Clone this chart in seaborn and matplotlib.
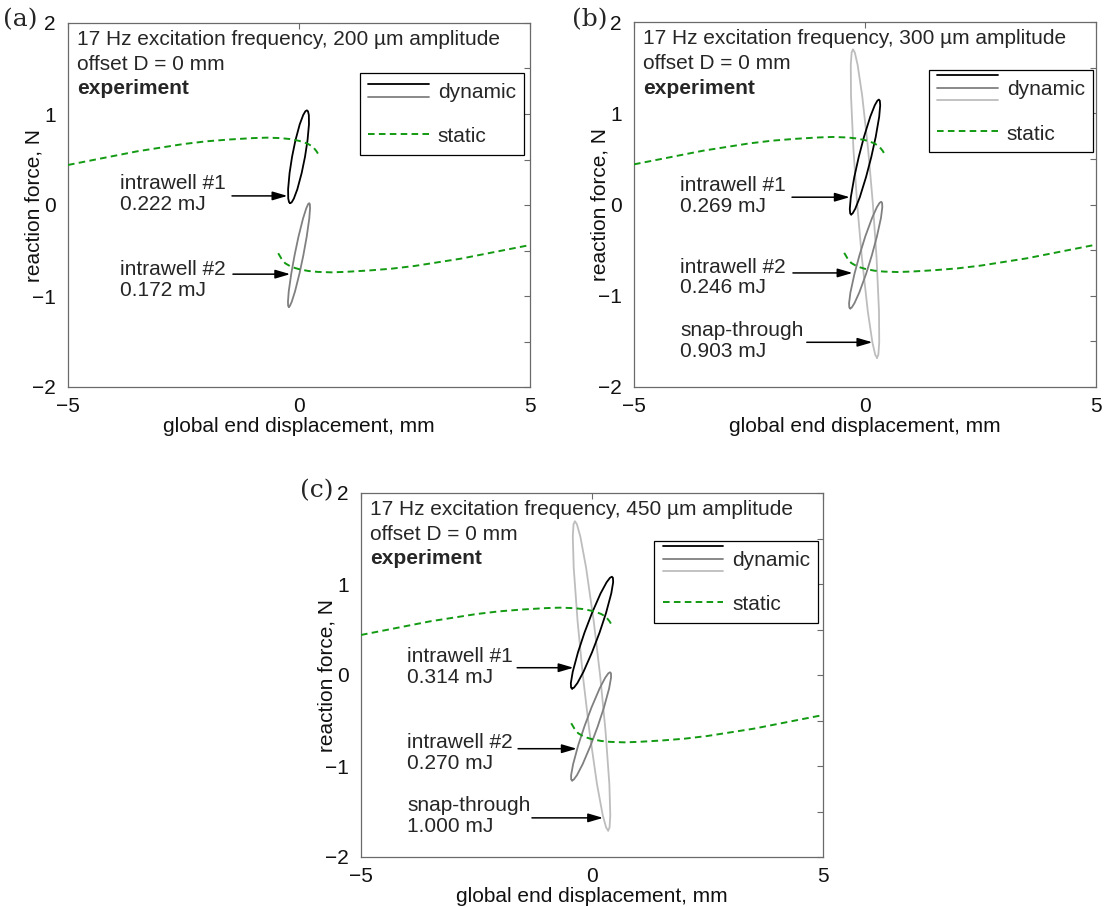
import matplotlib
matplotlib.use("Agg")
import matplotlib.pyplot as plt
from matplotlib.lines import Line2D
from matplotlib.legend_handler import HandlerBase
import seaborn as sns

sns.set_theme(style="white")
plt.rcParams["font.family"] = ["Liberation Sans", "DejaVu Sans"]

# ---------------------------------------------------------------- data
# quasi-static reaction force, both equilibrium branches (mm, N)
static_upper_x = [-5, -4.5, -4, -3.5, -3, -2.5, -2, -1.5, -1, -0.7, -0.4, -0.2, 0, 0.1, 0.2, 0.3, 0.38, 0.45]
static_upper_y = [0.44, 0.49, 0.54, 0.59, 0.63, 0.67, 0.70, 0.72, 0.735, 0.74, 0.735, 0.725, 0.705, 0.69, 0.67, 0.64, 0.59, 0.53]
static_lower_x = [-0.45, -0.38, -0.3, -0.2, -0.1, 0, 0.2, 0.4, 0.7, 1, 1.5, 2, 2.5, 3, 3.5, 4, 4.5, 5]
static_lower_y = [-0.53, -0.59, -0.64, -0.67, -0.69, -0.705, -0.725, -0.735, -0.74, -0.735, -0.72, -0.70, -0.67, -0.63, -0.59, -0.54, -0.49, -0.44]

# dynamic hysteresis loops: force levels, left and right branch displacement
a_well1_f = [0.02, 0.030, 0.071, 0.173, 0.352, 0.53, 0.709, 0.887, 0.989, 1.030, 1.04]
a_well1_l = [-0.19, -0.214, -0.233, -0.236, -0.204, -0.15, -0.078, 0.016, 0.091, 0.138, 0.17]
a_well1_r = [-0.19, -0.158, -0.111, -0.036, 0.058, 0.13, 0.184, 0.216, 0.213, 0.194, 0.17]

a_well2_f = [-1.12, -1.109, -1.063, -0.949, -0.750, -0.55, -0.350, -0.151, -0.037, 0.009, 0.02]
a_well2_l = [-0.22, -0.235, -0.239, -0.222, -0.166, -0.095, -0.012, 0.086, 0.157, 0.197, 0.22]
a_well2_r = [-0.22, -0.197, -0.157, -0.086, 0.012, 0.095, 0.166, 0.222, 0.239, 0.235, 0.22]

b_well1_f = [-0.11, -0.097, -0.047, 0.079, 0.300, 0.52, 0.741, 0.961, 1.087, 1.137, 1.15]
b_well1_l = [-0.30, -0.321, -0.329, -0.307, -0.232, -0.136, -0.022, 0.113, 0.211, 0.267, 0.30]
b_well1_r = [-0.30, -0.267, -0.211, -0.113, 0.022, 0.136, 0.232, 0.307, 0.329, 0.321, 0.30]

b_well2_f = [-1.14, -1.128, -1.082, -0.965, -0.760, -0.555, -0.350, -0.146, -0.028, 0.018, 0.03]
b_well2_l = [-0.32, -0.340, -0.345, -0.316, -0.228, -0.119, 0.006, 0.154, 0.259, 0.316, 0.35]
b_well2_r = [-0.32, -0.286, -0.229, -0.124, 0.024, 0.149, 0.258, 0.346, 0.375, 0.370, 0.35]

b_snap_f = [-1.68, -1.646, -1.511, -1.173, -0.582, 0.01, 0.602, 1.193, 1.531, 1.666, 1.70]
b_snap_l = [0.26, 0.221, 0.160, 0.061, -0.068, -0.170, -0.250, -0.303, -0.308, -0.289, -0.26]
b_snap_r = [0.26, 0.289, 0.308, 0.303, 0.250, 0.170, 0.068, -0.061, -0.160, -0.221, -0.26]

c_well1_f = [-0.15, -0.138, -0.089, 0.035, 0.250, 0.465, 0.680, 0.896, 1.019, 1.068, 1.08]
c_well1_l = [-0.43, -0.453, -0.458, -0.417, -0.303, -0.163, -0.001, 0.185, 0.316, 0.389, 0.43]
c_well1_r = [-0.43, -0.389, -0.316, -0.185, 0.001, 0.163, 0.303, 0.417, 0.458, 0.453, 0.43]

c_well2_f = [-1.16, -1.148, -1.101, -0.982, -0.773, -0.565, -0.357, -0.149, -0.030, 0.018, 0.03]
c_well2_l = [-0.43, -0.451, -0.452, -0.410, -0.299, -0.164, -0.011, 0.164, 0.286, 0.353, 0.39]
c_well2_r = [-0.43, -0.393, -0.326, -0.204, -0.029, 0.124, 0.259, 0.370, 0.412, 0.411, 0.39]

c_snap_f = [-1.71, -1.676, -1.540, -1.200, -0.605, -0.01, 0.585, 1.180, 1.520, 1.656, 1.69]
c_snap_l = [0.35, 0.306, 0.232, 0.108, -0.059, -0.197, -0.311, -0.396, -0.416, -0.400, -0.37]
c_snap_r = [0.35, 0.380, 0.396, 0.376, 0.291, 0.177, 0.039, -0.128, -0.252, -0.326, -0.37]

# dissipated energy per cycle (mJ) and excitation amplitudes (um)
energy_a = [0.222, 0.172]
energy_b = [0.269, 0.246, 0.903]
energy_c = [0.314, 0.270, 1.000]
amplitudes = [200, 300, 450]
loop_names = ["intrawell #1", "intrawell #2", "snap-through"]

x_ticks = [-5, 0, 5]
x_tick_labels = ["\u22125", "0", "5"]
y_ticks = [-2, -1.5, -1, -0.5, 0, 0.5, 1, 1.5, 2]
y_tick_labels = ["\u22122", "", "\u22121", "", "0", "", "1", "", "2"]

# ---------------------------------------------------------------- styling
BLACK, GRAY, LIGHT = "#000000", "#808080", "#bdbdbd"
GREEN = "#129a12"
FRAME = "#6a6a6a"
DASH = (0, (3.4, 2.2))
FS = 15
W, H = 1106, 907


def closed_loop(f, left, right):
    xs = list(right) + list(left[-2:0:-1]) + [right[0]]
    ys = list(f) + list(f[-2:0:-1]) + [f[0]]
    return xs, ys


class StackedLines(HandlerBase):
    """Legend handle drawing a tuple of lines stacked vertically."""

    def __init__(self, gap=9.0, **kw):
        super().__init__(**kw)
        self.gap = gap

    def create_artists(self, legend, orig_handle, xdescent, ydescent,
                       width, height, fontsize, trans):
        n = len(orig_handle)
        mid = height / 2 - ydescent
        artists = []
        for i, h in enumerate(orig_handle):
            y = mid + (n - 1) / 2 * self.gap - i * self.gap
            ln = Line2D([-xdescent, -xdescent + width], [y, y],
                        color=h.get_color(), lw=h.get_linewidth())
            ln.set_transform(trans)
            artists.append(ln)
        return artists


panels = [
    dict(box=(68, 23, 530, 387), tag="(a)", tag_xy=(3, 20), amp=amplitudes[0],
         loops=[(a_well1_f, a_well1_l, a_well1_r, BLACK),
                (a_well2_f, a_well2_l, a_well2_r, GRAY)],
         energy=energy_a,
         notes=[((-3.87, 0.12), (-1.45, 0.10), (-0.25, 0.10)),
                ((-3.87, -0.82), (-1.43, -0.76), (-0.19, -0.76))],
         anchor=(0.987, 0.863)),
    dict(box=(634, 22, 1096, 387), tag="(b)", tag_xy=(572, 20), amp=amplitudes[1],
         loops=[(b_snap_f, b_snap_l, b_snap_r, LIGHT),
                (b_well1_f, b_well1_l, b_well1_r, BLACK),
                (b_well2_f, b_well2_l, b_well2_r, GRAY)],
         energy=energy_b,
         notes=[((-4.0, 0.09), (-1.58, 0.08), (-0.33, 0.08)),
                ((-4.0, -0.80), (-1.56, -0.75), (-0.27, -0.75)),
                ((-4.0, -1.50), (-1.26, -1.51), (0.16, -1.51))],
         anchor=(0.9935, 0.868)),
    dict(box=(361, 493, 823, 857), tag="(c)", tag_xy=(300, 491), amp=amplitudes[2],
         loops=[(c_snap_f, c_snap_l, c_snap_r, LIGHT),
                (c_well1_f, c_well1_l, c_well1_r, BLACK),
                (c_well2_f, c_well2_l, c_well2_r, GRAY)],
         energy=energy_c,
         notes=[((-4.0, 0.09), (-1.62, 0.08), (-0.40, 0.08)),
                ((-4.0, -0.86), (-1.60, -0.81), (-0.33, -0.81)),
                ((-4.0, -1.55), (-1.30, -1.57), (0.24, -1.57))],
         anchor=(0.99, 0.868)),
]

fig = plt.figure(figsize=(W / 100, H / 100), dpi=100)
fig.patch.set_facecolor("white")

for p in panels:
    l, t, r, b = p["box"]
    ax = fig.add_axes([l / W, 1 - b / H, (r - l) / W, (b - t) / H])
    ax.set_facecolor("white")

    # static branches
    for sx, sy in ((static_upper_x, static_upper_y), (static_lower_x, static_lower_y)):
        sns.lineplot(x=sx, y=sy, ax=ax, sort=False, estimator=None,
                     color=GREEN, lw=1.4, linestyle=DASH, zorder=3)

    # dynamic loops
    for f, lft, rgt, col in p["loops"]:
        lx, ly = closed_loop(f, lft, rgt)
        sns.lineplot(x=lx, y=ly, ax=ax, sort=False, estimator=None,
                     color=col, lw=1.3, zorder=2)

    ax.set_xlim(-5, 5)
    ax.set_ylim(-2, 2)
    ax.set_xticks(x_ticks, x_tick_labels)
    ax.set_yticks(y_ticks, y_tick_labels)
    ax.tick_params(axis="both", direction="in", length=4.5, width=0.8,
                   color=FRAME, labelcolor="#111111", labelsize=FS,
                   top=True, right=True)
    ax.tick_params(axis="x", pad=7.5)
    ax.tick_params(axis="y", pad=9)
    for sp in ax.spines.values():
        sp.set_visible(True)
        sp.set_color(FRAME)
        sp.set_linewidth(0.9)

    ax.set_xlabel("global end displacement, mm", fontsize=FS, color="#111111")
    ax.set_ylabel("reaction force, N", fontsize=FS, color="#111111")
    ax.xaxis.set_label_coords(0.5, -0.083)
    ax.yaxis.set_label_coords(-0.052, 0.5)

    # header block
    ax.text(0.0195, 0.956, f"17 Hz excitation frequency, {p['amp']} \u00b5m amplitude",
            transform=ax.transAxes, fontsize=FS, va="center", ha="left")
    ax.text(0.0195, 0.887, "offset D = 0 mm", transform=ax.transAxes,
            fontsize=FS, va="center", ha="left")
    ax.text(0.0195, 0.819, "experiment", transform=ax.transAxes,
            fontsize=FS, va="center", ha="left", fontweight="bold")

    # loop annotations
    for name, e, (txy, tail, tip) in zip(loop_names, p["energy"], p["notes"]):
        ax.text(txy[0], txy[1], f"{name}\n{e:.3f} mJ", fontsize=FS,
                ha="left", va="center", linespacing=1.12)
        ax.annotate("", xy=tip, xytext=(tail[0], tip[1]),
                    arrowprops=dict(arrowstyle="-|>,head_length=0.75,head_width=0.22",
                                    color="black", lw=1.1, shrinkA=0, shrinkB=0,
                                    mutation_scale=12))

    # legend
    dyn_cols = [c for *_, c in p["loops"]]
    dyn_cols = [c for c in (BLACK, GRAY, LIGHT) if c in dyn_cols]
    dyn_handle = tuple(Line2D([], [], color=c, lw=1.3) for c in dyn_cols)
    st_handle = Line2D([], [], color=GREEN, lw=1.4, linestyle=DASH)
    leg = ax.legend([dyn_handle, st_handle], ["dynamic", "static"],
                    handler_map={tuple: StackedLines(gap=9.0)},
                    loc="upper right", bbox_to_anchor=p["anchor"], borderaxespad=0,
                    fontsize=FS, handlelength=2.9, handleheight=1.0,
                    handletextpad=0.43, borderpad=0.4, labelspacing=1.16,
                    frameon=True, fancybox=False, framealpha=1, edgecolor="black")
    leg.get_frame().set_linewidth(0.9)

    fig.text(p["tag_xy"][0] / W, 1 - p["tag_xy"][1] / H, p["tag"],
             family=["DejaVu Serif"], fontsize=18, ha="left", va="center")

fig.savefig("out.png", dpi=100, facecolor="white")
